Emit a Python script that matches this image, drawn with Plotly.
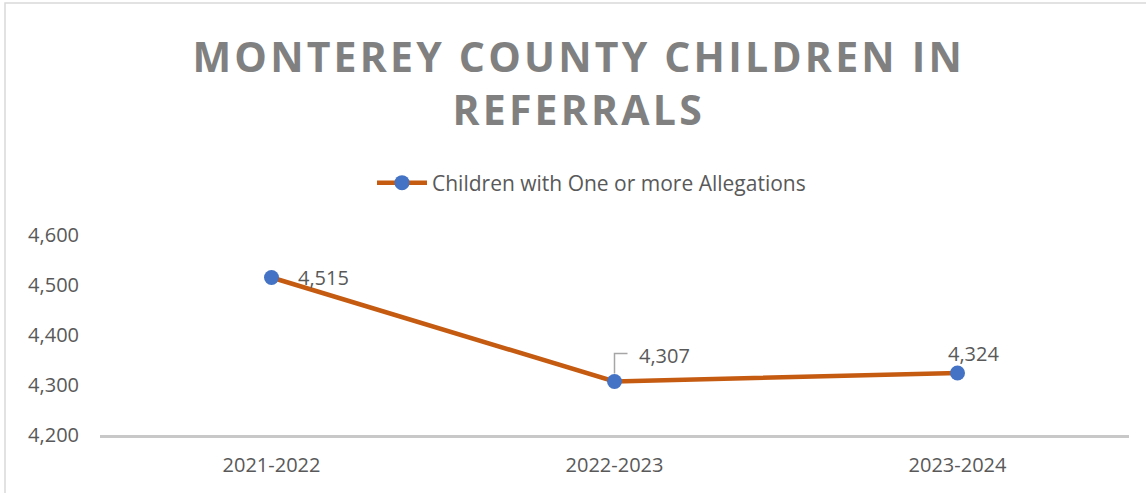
import plotly.graph_objects as go

categories = ["2021-2022", "2022-2023", "2023-2024"]
values = [4515, 4307, 4324]
series_name = "Children with One or more Allegations"
y_ticks = [4200, 4300, 4400, 4500, 4600]
label_text = [f"{v:,}" for v in values]

LINE = "#C55A11"
MARK = "#4472C4"
TXT = "#595959"
FONT = "Open Sans"
W, H = 1146, 493
L, R, T, B = 100, 17, 235, 58
PW, PH = W - L - R, H - T - B

fig = go.Figure()
fig.add_trace(go.Scatter(
    x=categories, y=values, mode="lines+markers", name=series_name,
    line=dict(color=LINE, width=4.5),
    marker=dict(color=MARK, size=15),
))

# data labels: (xshift, yshift, anchor)
offsets = [(24, 0, "left"), (22, 26, "left"), (16, 20, "center")]
for c, v, t, (dx, dy, xa) in zip(categories, values, label_text, offsets):
    fig.add_annotation(x=c, y=v, xref="x", yref="y", text=t, showarrow=False,
                       xshift=dx, yshift=dy, xanchor=xa, yanchor="middle",
                       font=dict(family=FONT, size=20, color=TXT))

# leader line for the middle label
fig.add_shape(type="path", xref="x", yref="y", xsizemode="pixel", ysizemode="pixel",
              xanchor=categories[1], yanchor=values[1],
              path="M0,8 L0,28 L13,28", line=dict(color="#A6A6A6", width=1.5))

# outer chart border
fig.add_shape(type="rect", xref="paper", yref="paper",
              x0=(5 - L) / PW, x1=(W + 20 - L) / PW,
              y0=(H - B - (H + 20)) / PH, y1=(H - B - 3) / PH,
              line=dict(color="#D9D9D9", width=1.5), fillcolor="rgba(0,0,0,0)", layer="below")

fig.update_layout(
    width=W, height=H,
    margin=dict(l=L, r=R, t=T, b=B, autoexpand=False),
    paper_bgcolor="white", plot_bgcolor="white",
    title=dict(text="<b>MONTEREY COUNTY CHILDREN IN<br>REFERRALS</b>",
               x=0.505, xanchor="center", y=1 - 72 / H, yanchor="middle", yref="container",
               font=dict(family=FONT, size=41, color="#808080")),
    showlegend=True,
    legend=dict(orientation="h", x=(372 - L) / PW, xanchor="left", y=1 - 183 / H,
                yref="container", yanchor="middle", itemwidth=50,
                font=dict(family=FONT, size=21, color=TXT),
                bgcolor="rgba(0,0,0,0)"),
    xaxis=dict(type="category", range=[-0.5, 2.5], showgrid=False, showline=True,
               linecolor="#C8C8C8", linewidth=3, ticks="",
               tickfont=dict(family=FONT, size=20, color=TXT),
               ticklabelstandoff=10, zeroline=False, automargin=False),
    yaxis=dict(range=[4200, 4600], tickvals=y_ticks, tickformat=",", showgrid=False,
               showline=False, zeroline=False, ticks="", automargin=False,
               tickfont=dict(family=FONT, size=20, color=TXT), ticklabelstandoff=20),
)

post = """
document.body.style.margin = '0';
var t = document.querySelectorAll('.gtitle');
t.forEach(function(e){ e.style.letterSpacing = '3.2px'; });
"""
fig.write_html("out.html", post_script=post, config={"displayModeBar": False})
